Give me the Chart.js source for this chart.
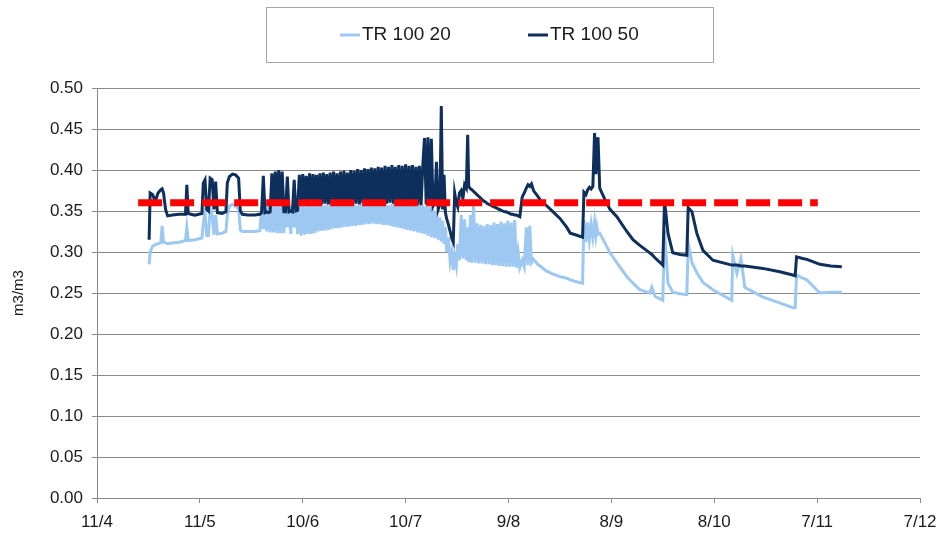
<!DOCTYPE html>
<html lang="en">
<head>
  <meta charset="UTF-8">
  <title>TR 100 soil moisture</title>
  <script src="https://cdn.jsdelivr.net/npm/chart.js"></script>
  <style>
    html, body { margin: 0; padding: 0; background: #fff; }
    canvas { display: block; }
  </style>
</head>
<body>
  <canvas id="chart" width="941" height="533"></canvas>

  <script>
    // x is days since 11/4, tick labels every 30 days
    const xLabels = ['11/4', '11/5', '10/6', '10/7', '9/8', '8/9', '8/10', '7/11', '7/12'];

    const days = [
      // spring, before daily cycling
      15.2, 15.5, 16.2, 17.0, 17.8, 18.6, 19.0, 19.4, 20.0, 20.6,
      22.0, 24.0, 25.8, 26.2, 26.6, 28.5, 30.6, 31.0, 31.5, 32.0,
      32.5, 33.0, 33.6, 34.1, 34.6, 35.1, 36.5, 37.6, 38.0, 38.6,
      39.5, 40.4, 41.3, 41.8, 42.4, 44.0, 46.0, 47.5,
      // first irrigation pulses
      48.0, 48.5, 49.0, 49.5, 50.0, 50.5, 51.0, 51.5, 52.0, 52.5,
      53.0, 53.5, 54.0, 54.5, 55.0, 55.5, 56.0, 56.5, 57.0, 57.5,
      58.0, 58.5,
      // daily cycling
      59.0, 59.5, 60.0, 60.5, 61.0, 61.5, 62.0, 62.5, 63.0, 63.5,
      64.0, 64.5, 65.0, 65.5, 66.0, 66.5, 67.0, 67.5, 68.0, 68.5,
      69.0, 69.5, 70.0, 70.5, 71.0, 71.5, 72.0, 72.5, 73.0, 73.5,
      74.0, 74.5, 75.0, 75.5, 76.0, 76.5, 77.0, 77.5, 78.0, 78.5,
      79.0, 79.5, 80.0, 80.5, 81.0, 81.5, 82.0, 82.5, 83.0, 83.5,
      84.0, 84.5, 85.0, 85.5, 86.0, 86.5, 87.0, 87.5, 88.0, 88.5,
      89.0, 89.5, 90.0, 90.5, 91.0, 91.5, 92.0, 92.5, 93.0, 93.5,
      94.0, 94.5, 95.0,
      // summer peaks and drop
      95.5, 96.0, 96.5, 97.0, 97.5, 98.0, 98.5, 99.0, 99.5, 100.0,
      100.4, 100.8, 101.2, 101.6, 102.0, 102.5, 103.0, 103.5, 103.9, 104.3,
      104.8, 105.2, 105.7, 106.2, 106.7, 107.2, 107.7, 108.1, 108.4, 108.9,
      109.3, 109.8, 110.3, 110.8, 111.3, 111.8, 112.3, 112.8, 113.3, 113.8,
      114.3, 114.8, 115.3, 115.8, 116.3, 116.8, 117.3, 117.8, 118.3, 118.8,
      119.3, 119.8, 120.3, 120.8, 121.3, 121.8, 122.3, 122.8, 123.3, 124.0,
      124.6, 125.2, 125.7, 126.2, 126.7, 127.3,
      // rain events and drying
      128.5, 129.5, 131.0, 133.0, 135.0, 137.0, 138.0, 139.5, 141.6, 142.0,
      142.6, 143.1, 143.6, 144.1, 144.6, 145.1, 145.5, 145.8, 146.1, 146.6,
      148.0, 149.6, 151.6, 154.5, 156.3, 158.3, 161.2, 161.8, 162.7, 165.0,
      165.5, 166.5, 167.9, 170.0, 172.0, 172.4, 173.5, 174.9, 176.7, 179.6,
      185.1, 185.4, 186.6, 187.8, 188.9, 194.2, 199.1, 202.9, 203.6, 204.0,
      205.8, 207.0, 210.8, 214.0, 217.2
    ];

    const tr20 = [
      0.285, 0.300, 0.307, 0.309, 0.310, 0.311, 0.332, 0.312, 0.311, 0.310,
      0.311, 0.312, 0.314, 0.330, 0.314, 0.315, 0.317, 0.335, 0.348, 0.320,
      0.320, 0.352, 0.345, 0.321, 0.345, 0.322, 0.323, 0.325, 0.345, 0.356,
      0.358, 0.356, 0.352, 0.327, 0.325, 0.325, 0.325, 0.326,

      0.355, 0.328, 0.356, 0.325, 0.356, 0.324, 0.357, 0.324, 0.357, 0.323,
      0.357, 0.323, 0.357, 0.323, 0.357, 0.330, 0.357, 0.322, 0.357, 0.330,
      0.357, 0.322,

      0.356, 0.320, 0.357, 0.321, 0.356, 0.322, 0.358, 0.322, 0.357, 0.323,
      0.356, 0.325, 0.358, 0.326, 0.357, 0.326, 0.358, 0.327, 0.357, 0.328,
      0.358, 0.329, 0.357, 0.329, 0.359, 0.330, 0.358, 0.331, 0.357, 0.331,
      0.359, 0.332, 0.358, 0.332, 0.357, 0.333, 0.359, 0.333, 0.358, 0.334,
      0.357, 0.334, 0.359, 0.335, 0.358, 0.334, 0.357, 0.334, 0.359, 0.333,
      0.358, 0.333, 0.357, 0.332, 0.359, 0.331, 0.358, 0.330, 0.357, 0.329,
      0.359, 0.328, 0.358, 0.327, 0.357, 0.326, 0.358, 0.325, 0.357, 0.324,
      0.358, 0.323, 0.357,

      0.322, 0.356, 0.320, 0.355, 0.318, 0.352, 0.317, 0.350, 0.315, 0.342,
      0.313, 0.338, 0.310, 0.330, 0.300, 0.318, 0.288, 0.300, 0.278, 0.295,
      0.283, 0.310, 0.290, 0.345, 0.292, 0.340, 0.290, 0.330, 0.288, 0.345,
      0.287, 0.360, 0.287, 0.335, 0.286, 0.333, 0.286, 0.332, 0.285, 0.334,
      0.285, 0.333, 0.284, 0.336, 0.284, 0.334, 0.283, 0.337, 0.283, 0.335,
      0.282, 0.338, 0.282, 0.336, 0.282, 0.339, 0.281, 0.300, 0.281, 0.290,
      0.282, 0.330, 0.284, 0.332, 0.287, 0.291,

      0.285, 0.282, 0.277, 0.273, 0.270, 0.268, 0.266, 0.264, 0.262, 0.339,
      0.312, 0.336, 0.315, 0.334, 0.318, 0.337, 0.320, 0.330, 0.322, 0.323,
      0.312, 0.299, 0.287, 0.270, 0.262, 0.254, 0.250, 0.257, 0.246, 0.241,
      0.327, 0.262, 0.251, 0.249, 0.248, 0.311, 0.287, 0.275, 0.263, 0.254,
      0.241, 0.296, 0.274, 0.292, 0.257, 0.245, 0.238, 0.232, 0.232, 0.272,
      0.268, 0.266, 0.250, 0.251, 0.251
    ];

    const tr50 = [
      0.315, 0.372, 0.370, 0.362, 0.372, 0.376, 0.377, 0.372, 0.352, 0.344,
      0.345, 0.346, 0.346, 0.382, 0.347, 0.345, 0.347, 0.384, 0.388, 0.352,
      0.350, 0.390, 0.388, 0.352, 0.386, 0.348, 0.347, 0.349, 0.384, 0.392,
      0.395, 0.394, 0.390, 0.350, 0.346, 0.345, 0.345, 0.346,

      0.348, 0.393, 0.348, 0.349, 0.348, 0.349, 0.396, 0.360, 0.398, 0.360,
      0.400, 0.360, 0.398, 0.349, 0.349, 0.392, 0.349, 0.350, 0.349, 0.388,
      0.350, 0.351,

      0.394, 0.358, 0.395, 0.359, 0.393, 0.357, 0.396, 0.358, 0.395, 0.359,
      0.394, 0.357, 0.396, 0.358, 0.397, 0.359, 0.395, 0.358, 0.397, 0.359,
      0.398, 0.357, 0.396, 0.358, 0.398, 0.359, 0.399, 0.358, 0.397, 0.359,
      0.400, 0.358, 0.399, 0.359, 0.401, 0.358, 0.400, 0.360, 0.402, 0.359,
      0.401, 0.358, 0.403, 0.359, 0.402, 0.360, 0.404, 0.359, 0.403, 0.358,
      0.405, 0.359, 0.404, 0.360, 0.406, 0.359, 0.404, 0.358, 0.406, 0.359,
      0.405, 0.360, 0.407, 0.359, 0.405, 0.358, 0.406, 0.359, 0.404, 0.358,
      0.405, 0.357, 0.405,

      0.439, 0.358, 0.440, 0.357, 0.438, 0.356, 0.360, 0.410, 0.352, 0.358,
      0.478, 0.352, 0.394, 0.348, 0.340, 0.333, 0.325, 0.316, 0.312, 0.372,
      0.360, 0.355, 0.372, 0.375, 0.365, 0.382, 0.378, 0.443, 0.380, 0.377,
      0.376, 0.374, 0.372, 0.370, 0.368, 0.366, 0.364, 0.362, 0.361, 0.359,
      0.358, 0.357, 0.356, 0.355, 0.354, 0.353, 0.352, 0.351, 0.350, 0.349,
      0.349, 0.348, 0.347, 0.346, 0.346, 0.345, 0.345, 0.344, 0.343, 0.367,
      0.372, 0.378, 0.382, 0.380, 0.383, 0.375,

      0.368, 0.362, 0.357, 0.349, 0.341, 0.330, 0.323, 0.321, 0.318, 0.373,
      0.370, 0.376, 0.379, 0.377, 0.380, 0.445, 0.395, 0.432, 0.440, 0.378,
      0.365, 0.352, 0.343, 0.325, 0.315, 0.308, 0.299, 0.297, 0.293, 0.284,
      0.363, 0.323, 0.299, 0.297, 0.296, 0.354, 0.349, 0.323, 0.302, 0.290,
      0.284, 0.284, 0.284, 0.283, 0.283, 0.280, 0.276, 0.272, 0.271, 0.294,
      0.292, 0.291, 0.285, 0.283, 0.282
    ];

    // red reference level and the days it spans
    const threshold = 0.36;
    const thresholdDays = [12.0, 210.2];

    const FONT = '"Liberation Sans", Arial, Helvetica, sans-serif';
    const GRID = '#8a8a8a';

    // boxed legend above the plot
    const legendBox = {
      id: 'legendBox',
      afterDraw(chart) {
        const ctx = chart.ctx;
        ctx.save();
        ctx.strokeStyle = '#a6a6a6';
        ctx.lineWidth = 1;
        ctx.strokeRect(266.5, 7.5, 447, 55);
        ctx.font = '19px ' + FONT;
        ctx.textBaseline = 'middle';
        ctx.textAlign = 'left';
        [[340, 0], [528, 1]].forEach(([x, i]) => {
          const ds = chart.data.datasets[i];
          ctx.strokeStyle = ds.borderColor;
          ctx.lineWidth = 3;
          ctx.beginPath();
          ctx.moveTo(x, 35);
          ctx.lineTo(x + 20, 35);
          ctx.stroke();
          ctx.fillStyle = '#1a1a1a';
          ctx.fillText(ds.label, x + 22, 35);
        });
        ctx.restore();
      }
    };

    function noPad(scale) {
      scale.paddingLeft = 0;
      scale.paddingRight = 0;
      scale.paddingTop = 0;
      scale.paddingBottom = 0;
    }

    new Chart(document.getElementById('chart'), {
      type: 'line',
      data: {
        datasets: [
          {
            label: 'TR 100 20',
            data: days.map((d, i) => ({ x: d, y: tr20[i] })),
            borderColor: '#9cc8f2',
            borderWidth: 3,
            pointRadius: 0,
            order: 3
          },
          {
            label: 'TR 100 50',
            data: days.map((d, i) => ({ x: d, y: tr50[i] })),
            borderColor: '#0e2f5c',
            borderWidth: 3,
            pointRadius: 0,
            order: 2
          },
          {
            label: 'threshold',
            data: thresholdDays.map(d => ({ x: d, y: threshold })),
            borderColor: '#ff0000',
            borderWidth: 7,
            borderDash: [24, 8],
            borderCapStyle: 'butt',
            pointRadius: 0,
            order: 1
          }
        ]
      },
      options: {
        responsive: false,
        animation: false,
        layout: { padding: { top: 88, right: 21, bottom: 0, left: 0 } },
        plugins: {
          legend: { display: false },
          tooltip: { enabled: false }
        },
        scales: {
          x: {
            type: 'linear',
            min: 0,
            max: 240,
            afterFit(s) { s.height = 35; noPad(s); },
            afterBuildTicks(s) {
              s.ticks = xLabels.map((_, i) => ({ value: i * 30 }));
            },
            ticks: {
              autoSkip: false,
              maxRotation: 0,
              padding: 9,
              color: '#1a1a1a',
              font: { family: FONT, size: 17 },
              callback: v => xLabels[Math.round(v / 30)]
            },
            grid: {
              drawOnChartArea: false,
              tickLength: 5,
              color: GRID
            },
            border: { color: GRID }
          },
          y: {
            min: 0,
            max: 0.5,
            afterFit(s) { s.width = 97; noPad(s); },
            ticks: {
              stepSize: 0.05,
              padding: 9,
              color: '#1a1a1a',
              font: { family: FONT, size: 17 },
              callback: v => v.toFixed(2)
            },
            grid: {
              color: GRID,
              tickLength: 5
            },
            border: { color: GRID },
            title: {
              display: true,
              text: 'm3/m3',
              color: '#1a1a1a',
              font: { family: FONT, size: 15 },
              padding: { top: 10, bottom: 0 }
            }
          }
        }
      },
      plugins: [legendBox]
    });
  </script>
</body>
</html>
